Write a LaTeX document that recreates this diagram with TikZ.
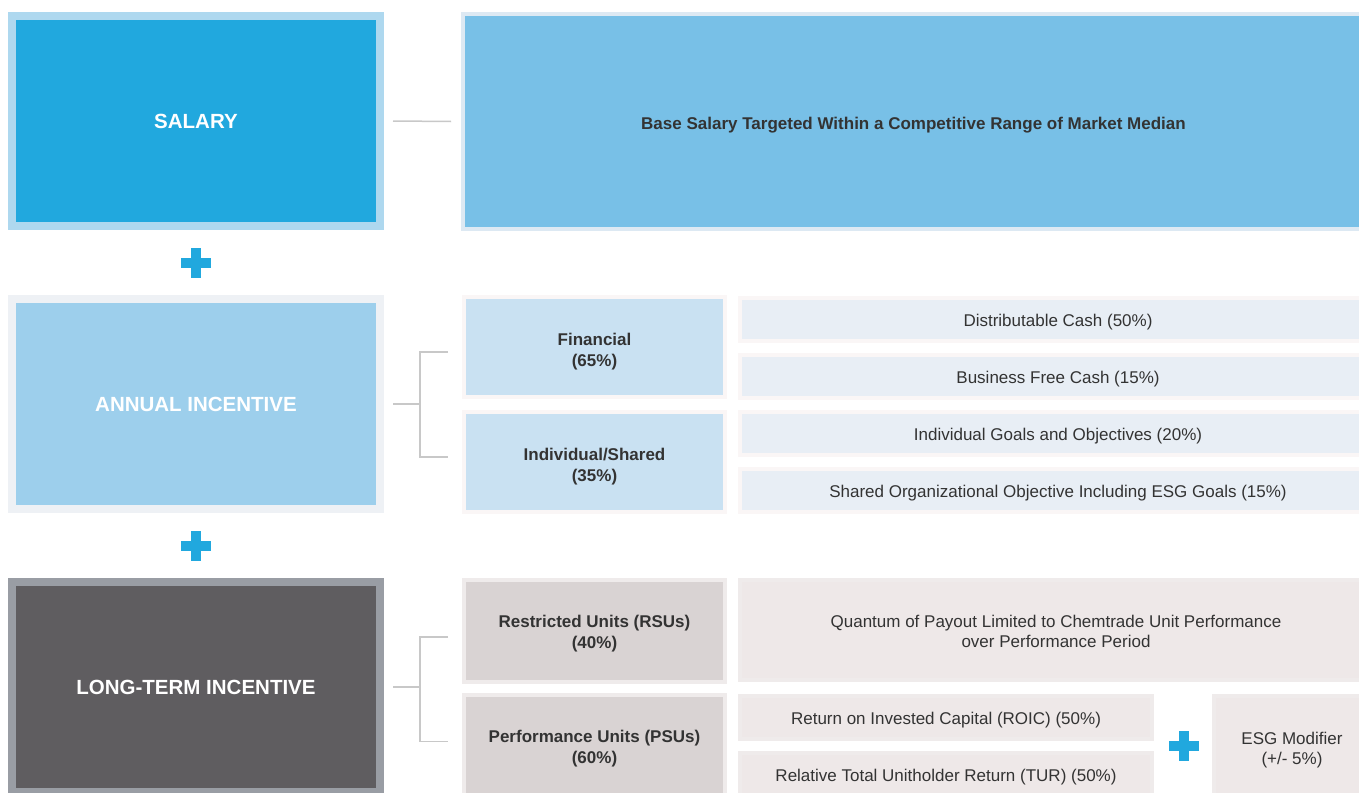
\documentclass[tikz,border=0pt]{standalone}
\usepackage{fontspec}
\setmainfont{Liberation Sans}
\usepackage{tikz}

\definecolor{textgray}{HTML}{333333}
\definecolor{linegray}{HTML}{C8C8C8}
\definecolor{plusblue}{HTML}{21A8DE}
\definecolor{salfill}{HTML}{21A8DE}
\definecolor{salframe}{HTML}{AED8EF}
\definecolor{basefill}{HTML}{78C0E7}
\definecolor{baseframe}{HTML}{DDE9F3}
\definecolor{annfill}{HTML}{9DCFEC}
\definecolor{annframe}{HTML}{EEF1F5}
\definecolor{partblue}{HTML}{C9E1F2}
\definecolor{itemblue}{HTML}{E8EEF5}
\definecolor{paleframe}{HTML}{FAF6F6}
\definecolor{ltifill}{HTML}{5F5D60}
\definecolor{ltiframe}{HTML}{999DA4}
\definecolor{partgray}{HTML}{D9D3D3}
\definecolor{partgrayframe}{HTML}{EFEBEB}
\definecolor{itemgray}{HTML}{EEE8E8}

\begin{document}
\begin{tikzpicture}[x=1pt,y=-1pt,node distance=57pt,
                    plussign/.pic={\fill[plusblue] (-15,-5) rectangle (15,5);
                                   \fill[plusblue] (-5,-15) rectangle (5,15);}]
  \tikzstyle{every node}=[text=textgray,inner sep=0pt,align=center]
  \tikzstyle{head}=[font=\fontsize{20.5}{24}\selectfont\bfseries,text=white,
                    minimum width=368pt,minimum height=210pt,line width=8pt]
  \tikzstyle{part}=[font=\fontsize{17}{21}\selectfont\bfseries,
                    minimum width=261pt,minimum height=100pt,line width=4pt,
                    text height=38pt,text depth=0pt]
  \tikzstyle{item}=[font=\fontsize{17}{20}\selectfont,minimum height=43pt,
                    line width=4pt,text height=14pt,text depth=0pt]
  \tikzstyle{link}=[draw=linegray,line width=1.5pt]

  \useasboundingbox[fill=white] (0,0) rectangle (1359,792);

  \node[head,fill=salfill,draw=salframe] (sal) at (196,121) {SALARY};
  \node[head,fill=annfill,draw=annframe] (ann) at (196,404) {ANNUAL INCENTIVE};
  \node[head,fill=ltifill,draw=ltiframe] (lti) at (196,687) {LONG-TERM INCENTIVE};

  \node[part,fill=basefill,draw=baseframe,minimum width=901pt,minimum height=215pt,
        text height=15pt]
       (base) at (913.5,121.5) {Base Salary Targeted Within a Competitive Range of Market Median};

  \node[part,fill=partblue,draw=paleframe] (fin) at (594.5,347) {Financial\\(65\%)};
  \node[part,fill=partblue,draw=paleframe] (ind) at (594.5,462) {Individual/Shared\\(35\%)};

  \node[item,fill=itemblue,draw=paleframe,minimum width=636pt] (dc) at (1058,319) {Distributable Cash (50\%)};
  \node[item,fill=itemblue,draw=paleframe,minimum width=636pt] (bfc) [below of=dc] {Business Free Cash (15\%)};
  \node[item,fill=itemblue,draw=paleframe,minimum width=636pt] (igo) [below of=bfc] {Individual Goals and Objectives (20\%)};
  \node[item,fill=itemblue,draw=paleframe,minimum width=636pt] (soo) [below of=igo] {Shared Organizational Objective Including ESG Goals (15\%)};

  \node[part,fill=partgray,draw=partgrayframe,minimum height=102pt,text height=35pt] (rsu) at (594.5,631) {Restricted Units (RSUs)\\(40\%)};
  \node[part,fill=partgray,draw=partgrayframe,minimum height=102pt,text height=35pt] (psu) at (594.5,745.5) {Performance Units (PSUs)\\(60\%)};

  \node[item,fill=itemgray,draw=partgrayframe,minimum width=632pt,minimum height=100pt,
        text height=34pt]
       (qp) at (1056,630) {Quantum of Payout Limited to Chemtrade Unit Performance\\over Performance Period};
  \node[item,fill=itemgray,draw=partgrayframe,minimum width=412pt] (roic) at (946,717.5) {Return on Invested Capital (ROIC) (50\%)};
  \node[item,fill=itemgray,draw=partgrayframe,minimum width=412pt] (tur) [below of=roic] {Relative Total Unitholder Return (TUR) (50\%)};
  \node[item,fill=itemgray,draw=partgrayframe,minimum width=156pt,minimum height=102pt,
        text height=34pt]
       (esg) at (1292,747) {ESG Modifier\\(+/- 5\%)};

  \pic at (196,263) {plussign};
  \pic at (196,546) {plussign};
  \pic at (1183.5,746) {plussign};

  \draw[link] ([xshift=9pt]sal.east) -- ([xshift=-10pt]base.west);
  \draw[link] ([xshift=9pt]ann.east) -- ++(27,0);
  \draw[link] ([shift={(-14pt,-5pt)}]fin.west) -| ([xshift=36pt]ann.east)
              |- ([shift={(-14pt,5pt)}]ind.west);
  \draw[link] ([xshift=9pt]lti.east) -- ++(27,0);
  \draw[link] ([shift={(-14pt,-6pt)}]rsu.west) -| ([xshift=36pt]lti.east)
              |- ([shift={(-14pt,4pt)}]psu.west);
\end{tikzpicture}
\end{document}
